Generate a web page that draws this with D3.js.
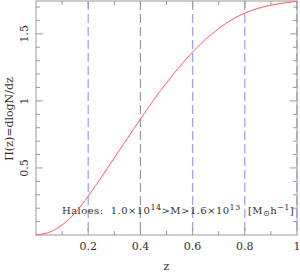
<!DOCTYPE html>
<html><head><meta charset="utf-8">
<script src="https://cdn.jsdelivr.net/npm/d3@7"></script>
<style>body{margin:0;background:#fff}svg{display:block}text{font-family:"DejaVu Serif","Liberation Serif",serif;fill:#333}</style>
</head><body>
<svg id="c" width="300" height="275"></svg>
<script>
const zValues = [0,0.05,0.1,0.15,0.2,0.25,0.3,0.35,0.4,0.45,0.5,0.55,0.6,0.65,0.7,0.75,0.8,0.85,0.9,0.95,1.0];
const piValues = [0,0.02,0.075,0.165,0.29,0.43,0.575,0.72,0.865,1.005,1.135,1.255,1.365,1.46,1.54,1.605,1.655,1.69,1.714,1.73,1.742];
const xTicks = [0.2,0.4,0.6,0.8,1];
const xTickLabels = ["0.2","0.4","0.6","0.8","1"];
const yTicks = [0.5,1,1.5];
const yTickLabels = ["0.5","1","1.5"];
const blueLines = [0.2,0.6,0.8,1.0];
const grayLines = [0.4];

const svg = d3.select("#c");
const L=36,R=297,T=1,B=235;
const x = d3.scaleLinear().domain([0,1]).range([L,R]);
const y = d3.scaleLinear().domain([0,1.745]).range([B,T]);
const axisCol="#999";

// dashed lines
svg.selectAll("line.bl").data(blueLines).join("line")
  .attr("x1",d=>x(d)).attr("x2",d=>x(d)).attr("y1",T).attr("y2",B)
  .attr("stroke","#9fa3f5").attr("stroke-width",1.3).attr("stroke-dasharray","9,4");
svg.selectAll("line.gl").data(grayLines).join("line")
  .attr("x1",d=>x(d)).attr("x2",d=>x(d)).attr("y1",T).attr("y2",B)
  .attr("stroke","#888").attr("stroke-width",1).attr("stroke-dasharray","9,4");

// frame
svg.append("rect").attr("x",L).attr("y",T).attr("width",R-L).attr("height",B-T)
  .attr("fill","none").attr("stroke",axisCol).attr("stroke-width",1);

// ticks
const minorX = d3.range(1,10).map(i=>i/10);
const minorY = d3.range(1,18).map(i=>i/10);
const g = svg.append("g").attr("stroke",axisCol).attr("stroke-width",1);
minorX.forEach(v=>{
  const maj = Math.abs(v*5-Math.round(v*5))<1e-6;
  const len = maj?7:4;
  g.append("line").attr("x1",x(v)).attr("x2",x(v)).attr("y1",B).attr("y2",B-len);
  g.append("line").attr("x1",x(v)).attr("x2",x(v)).attr("y1",T).attr("y2",T+len);
});
minorY.forEach(v=>{
  const maj = Math.abs(v*2-Math.round(v*2))<1e-6;
  const len = maj?7:4;
  g.append("line").attr("x1",L).attr("x2",L+len).attr("y1",y(v)).attr("y2",y(v));
  g.append("line").attr("x1",R).attr("x2",R-len).attr("y1",y(v)).attr("y2",y(v));
});

// tick labels
svg.selectAll("text.xt").data(xTicks).join("text")
  .attr("x",d=>x(d)).attr("y",250).attr("text-anchor","middle").attr("font-size",11)
  .text((d,i)=>xTickLabels[i]);
svg.selectAll("text.yt").data(yTicks).join("text")
  .attr("transform",d=>`translate(28,${y(d)}) rotate(-90)`).attr("text-anchor","middle").attr("font-size",11)
  .text((d,i)=>yTickLabels[i]);

// axis titles
svg.append("text").attr("x",(L+R)/2).attr("y",270).attr("text-anchor","middle").attr("font-size",11).text("z");
svg.append("text").attr("transform","translate(13,119) rotate(-90)").attr("text-anchor","middle").attr("font-size",11).text("Π(z)=dlogN/dz");

// annotation
const ann = svg.append("text").attr("x",62).attr("y",214).attr("font-size",10)
  .style("white-space","pre").attr("letter-spacing",0.45);
ann.append("tspan").text("Haloes:  1.0×10");
ann.append("tspan").attr("font-size",8).attr("dy",-4).text("14");
ann.append("tspan").attr("dy",4).text(">M>1.6×10");
ann.append("tspan").attr("font-size",8).attr("dy",-4).text("13");
ann.append("tspan").attr("dy",4).text("  [M");
ann.append("tspan").attr("font-size",8).attr("dy",2).text("⊙");
ann.append("tspan").attr("dy",-2).text("h");
ann.append("tspan").attr("font-size",8).attr("dy",-4).text("−1");
ann.append("tspan").attr("dy",4).text("]");

// curve
const pts = zValues.map((z,i)=>[z,piValues[i]]);
svg.append("path").datum(pts)
  .attr("d",d3.line().x(d=>x(d[0])).y(d=>y(d[1])).curve(d3.curveCatmullRom))
  .attr("fill","none").attr("stroke","#ff5a5a").attr("stroke-width",1);
</script>
</body></html>
